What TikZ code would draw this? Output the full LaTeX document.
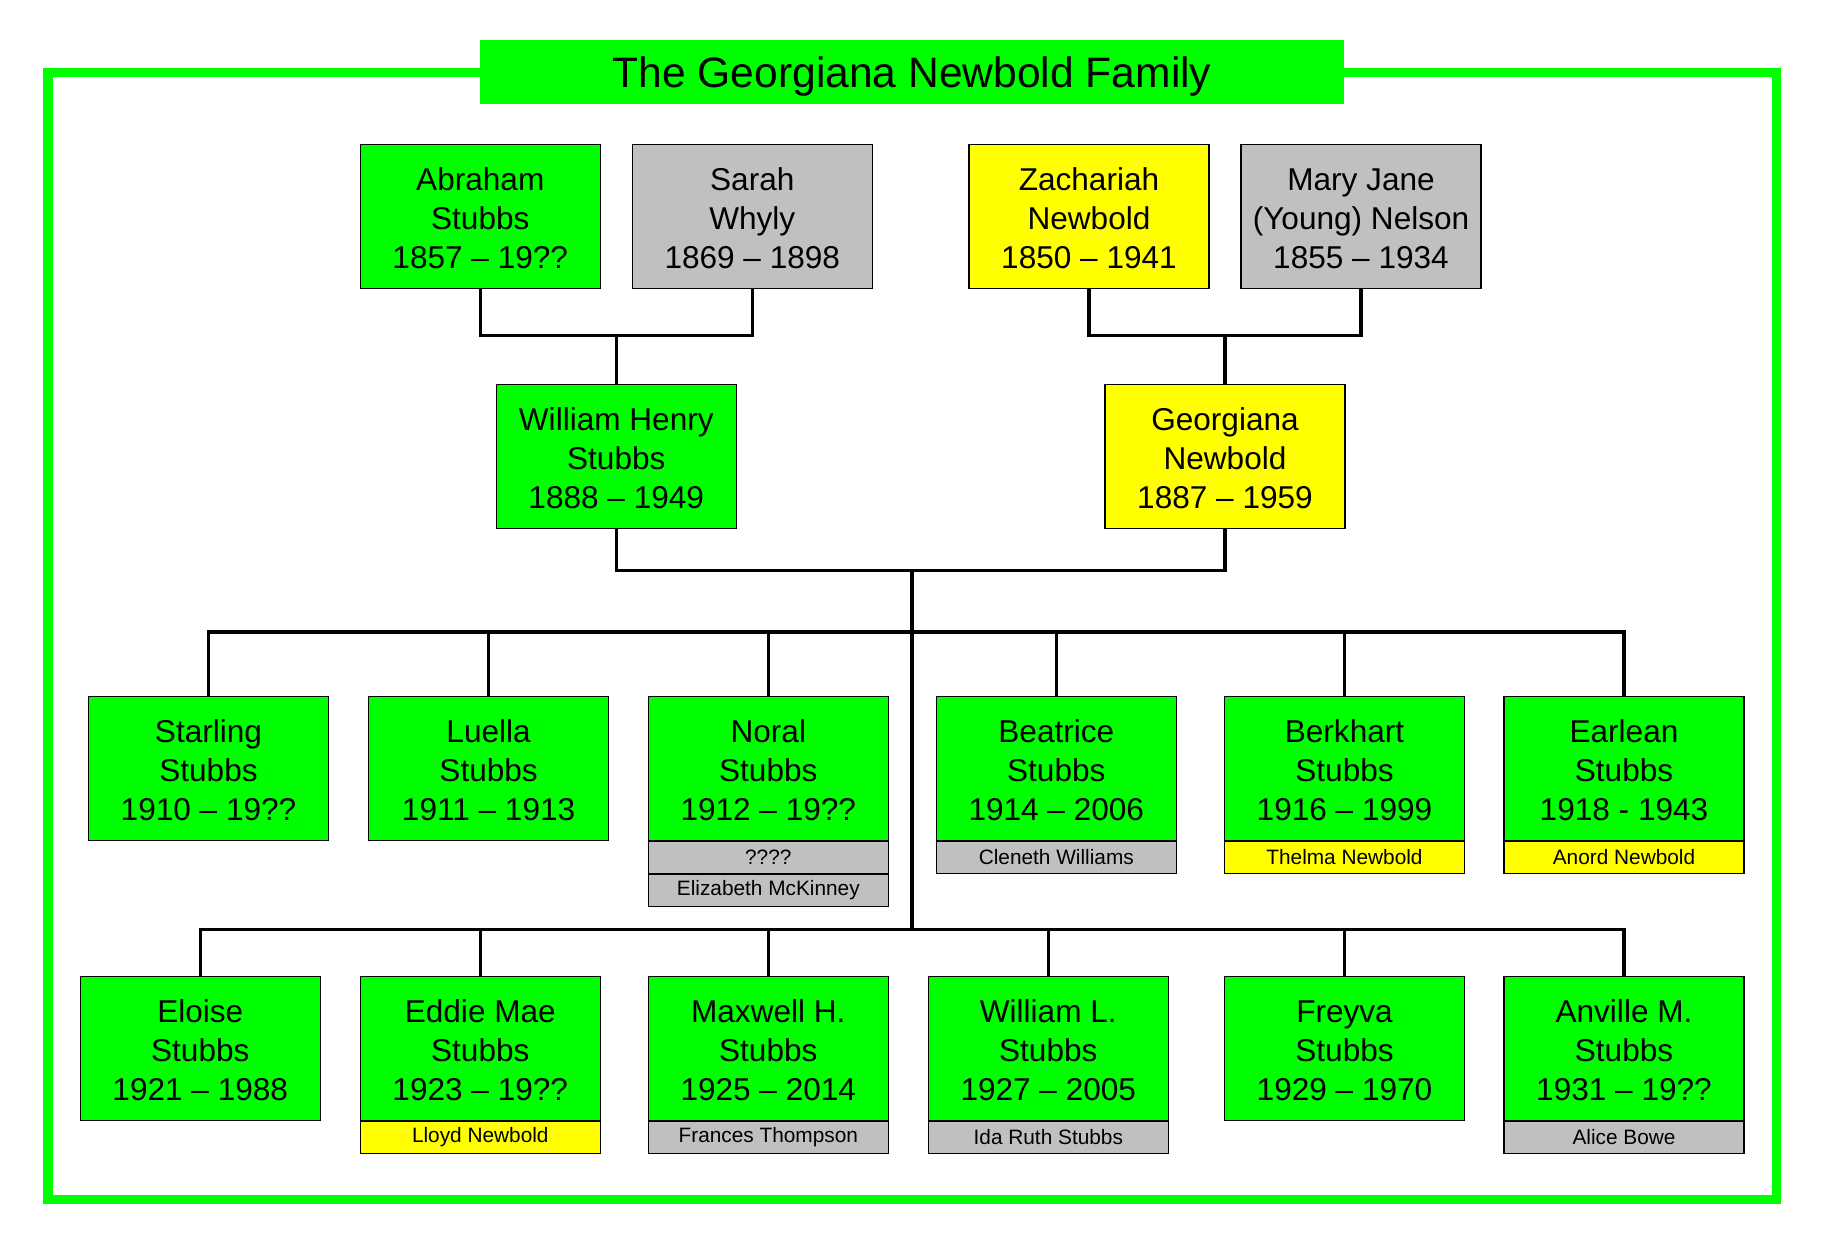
\documentclass[tikz,border=0pt]{standalone}
\usepackage{fontspec}
\setmainfont{Liberation Sans}
\definecolor{pgreen}{HTML}{00FF00}
\definecolor{pyellow}{HTML}{FFFF00}
\definecolor{pgray}{HTML}{C0C0C0}
\tikzset{
  person/.style={draw=black, line width=0.45pt, minimum width=102.6pt, minimum height=61.56pt,
    inner sep=0pt, align=center, text height=44.4pt, text depth=0pt,
    font=\fontsize{13.5}{16.6}\selectfont},
  spouse/.style={draw=black, line width=0.45pt, minimum width=102.6pt, minimum height=13.68pt,
    inner sep=0pt, align=center, anchor=north, font=\fontsize{8.9}{10}\selectfont},
  gp/.style={fill=pgreen}, yp/.style={fill=pyellow}, ap/.style={fill=pgray},
  link/.style={draw=black, line width=1.4pt},
  titlebox/.style={fill=pgreen, minimum width=369.4pt, minimum height=27.2pt, inner sep=0pt,
    text height=13.5pt, text depth=0.5pt, font=\fontsize{18.2}{22}\selectfont},
}
\begin{document}
\begin{tikzpicture}[x=0.4275pt,y=-0.4275pt]
\useasboundingbox (0,0) rectangle (1824,1248);
\draw[pgreen, line width=3.85pt] (48,72.2) rectangle (1776,1199.5);
\node[titlebox] (title) at (912,71.85) {The Georgiana Newbold Family};
% generation 1
\node[person,gp] (abraham) at (480.3,216.3) {Abraham\\Stubbs\\1857 -- 19??};
\node[person,ap] (sarah) at (752.3,216.3) {Sarah\\Whyly\\1869 -- 1898};
\node[person,yp] (zachariah) at (1089,216.3) {Zachariah\\Newbold\\1850 -- 1941};
\node[person,ap] (maryjane) at (1361,216.3) {Mary Jane\\(Young) Nelson\\1855 -- 1934};
% generation 2
\node[person,gp] (william) at (616.3,456.3) {William Henry\\Stubbs\\1888 -- 1949};
\node[person,yp] (georgiana) at (1225,456.3) {Georgiana\\Newbold\\1887 -- 1959};
% generation 3, row 1
\node[person,gp] (starling) at (208.5,768.5) {Starling\\Stubbs\\1910 -- 19??};
\node[person,gp] (luella) at (488.6,768.5) {Luella\\Stubbs\\1911 -- 1913};
\node[person,gp] (noral) at (768.3,768.5) {Noral\\Stubbs\\1912 -- 19??};
\node[person,gp] (beatrice) at (1056.3,768.5) {Beatrice\\Stubbs\\1914 -- 2006};
\node[person,gp] (berkhart) at (1344.5,768.5) {Berkhart\\Stubbs\\1916 -- 1999};
\node[person,gp] (earlean) at (1624,768.5) {Earlean\\Stubbs\\1918 - 1943};
\node[spouse,ap] (noralsp) at (noral.south) {????};
\node[spouse,ap] (noralsp2) at (noralsp.south) {Elizabeth McKinney};
\node[spouse,ap] (beatricesp) at (beatrice.south) {Cleneth Williams};
\node[spouse,yp] (berkhartsp) at (berkhart.south) {Thelma Newbold};
\node[spouse,yp] (earleansp) at (earlean.south) {Anord Newbold};
% generation 3, row 2
\node[person,gp] (eloise) at (200.3,1048.3) {Eloise\\Stubbs\\1921 -- 1988};
\node[person,gp] (eddie) at (480.3,1048.3) {Eddie Mae\\Stubbs\\1923 -- 19??};
\node[person,gp] (maxwell) at (768.3,1048.3) {Maxwell H.\\Stubbs\\1925 -- 2014};
\node[person,gp] (williaml) at (1048.3,1048.3) {William L.\\Stubbs\\1927 -- 2005};
\node[person,gp] (freyva) at (1344.5,1048.3) {Freyva\\Stubbs\\1929 -- 1970};
\node[person,gp] (anville) at (1624,1048.3) {Anville M.\\Stubbs\\1931 -- 19??};
\node[spouse,yp] (eddiesp) at (eddie.south) {Lloyd Newbold};
\node[spouse,ap] (maxwellsp) at (maxwell.south) {Frances Thompson};
\node[spouse,ap] (williamlsp) at (williaml.south) {Ida Ruth Stubbs};
\node[spouse,ap] (anvillesp) at (anville.south) {Alice Bowe};
% junctions
\coordinate (j1) at (616.3,335.3);
\coordinate (j2) at (1225,335.3);
\coordinate (jp) at (912,570.3);
\coordinate (bus3) at (912,632);
\coordinate (bus4) at (912,929.3);
% connectors
\draw[link] (abraham.south) |- (j1) -| (sarah.south);
\draw[link] (j1) -- (william.north);
\draw[link] (zachariah.south) |- (j2) -| (maryjane.south);
\draw[link] (j2) -- (georgiana.north);
\draw[link] (william.south) |- (jp) -| (georgiana.south);
\draw[link] (jp) -- (bus4);
\draw[link] (starling.north) |- (bus3) -| (earlean.north);
\draw[link] (luella.north) -- (luella.north |- bus3);
\draw[link] (noral.north) -- (noral.north |- bus3);
\draw[link] (beatrice.north) -- (beatrice.north |- bus3);
\draw[link] (berkhart.north) -- (berkhart.north |- bus3);
\draw[link] (eloise.north) |- (bus4) -| (anville.north);
\draw[link] (eddie.north) -- (eddie.north |- bus4);
\draw[link] (maxwell.north) -- (maxwell.north |- bus4);
\draw[link] (williaml.north) -- (williaml.north |- bus4);
\draw[link] (freyva.north) -- (freyva.north |- bus4);
\end{tikzpicture}
\end{document}
